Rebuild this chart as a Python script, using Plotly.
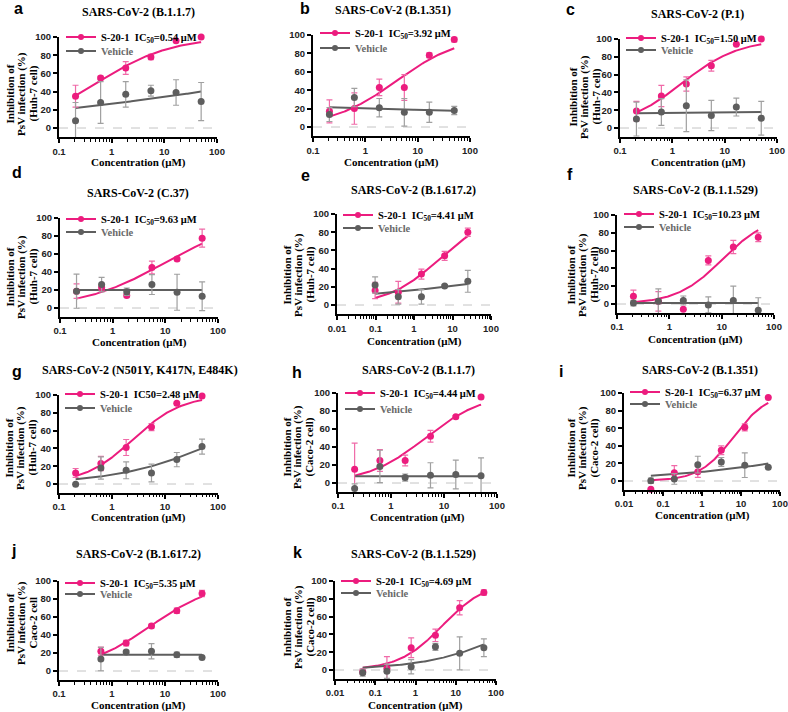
import numpy as np
import plotly.graph_objects as go

W, H = 788, 712
PINK = "#EC1C7E"
PINK_ERR = "#F06AA8"
GRAY = "#5E5E5E"
GRAY_ERR = "#A0A0A0"
SERIF = "Liberation Serif"
SANS = "Liberation Sans"

# ---------------- data (concentrations in µM, inhibition in %) ----------------
conc_3fold = [0.206, 0.617, 1.85, 5.56, 16.7, 50]
conc_3fold_j = [0.617, 1.85, 5.56, 16.7, 50]
conc_4fold_25 = [0.0977, 0.391, 1.56, 6.25, 25]
conc_4fold_50 = [0.0488, 0.195, 0.781, 3.125, 12.5, 50]

s20_a = [35, 55, 66, 78, 96, 100]
s20_a_err = [12, 2, 7, 3, 0, 0]
veh_a = [8, 28, 37, 41, 39, 29]
veh_a_err = [20, 23, 14, 6, 14, 21]

s20_b = [17, 20, 43, 43, 78, 95]
s20_b_err = [12.5, 17, 9, 14, 2.5, 2.5]
veh_b = [13.5, 32, 21, 16, 16, 18]
veh_b_err = [7.5, 10, 10, 15, 11, 4.5]

s20_c = [19, 36, 49.5, 70, 94, 100]
s20_c_err = [11, 12, 8, 6, 0, 0]
veh_c = [10, 18, 25, 14, 23.5, 11]
veh_c_err = [19, 15, 29, 17, 10, 19]

s20_d = [18.7, 22.8, 14, 45, 54.5, 77.6]
s20_d_err = [8, 3, 2, 7, 2, 10]
veh_d = [18.7, 26, 18, 26, 17.5, 13]
veh_d_err = [19, 8, 4, 11, 20, 16]

s20_e = [16, 14, 34, 54, 80]
s20_e_err = [9, 12, 5.5, 5, 4.5]
veh_e = [22, 9, 9, 21, 26]
veh_e_err = [9, 8, 8, 1.5, 12]

s20_f = [8.6, 3, -6, 49, 64, 75]
s20_f_err = [7, 11, 0, 5, 7.5, 5]
veh_f = [1, 3, 4, -1, 4, -7]
veh_f_err = [3, 14, 5, 9, 16, 14]

s20_g = [12.4, 23, 41, 64, 90.6, 99]
s20_g_err = [5, 8, 9, 4, 0, 0]
veh_g = [-0.4, 18, 15.4, 12.4, 27.4, 42]
veh_g_err = [0, 12.5, 9.5, 10, 8, 8.5]

s20_h = [15.4, 25, 25, 52, 73.5, 95.6]
s20_h_err = [29, 12, 6, 6.5, 1.5, 0]
veh_h = [-6, 18.4, 6, 8.5, 9.5, 8]
veh_h_err = [5, 18, 4, 14, 16, 20]

s20_i = [-9.5, 9.5, 10.6, 35, 61, 95]
s20_i_err = [0, 8, 6.5, 5, 4, 0]
veh_i = [0.4, 2.3, 18.6, 21.7, 18, 15.6]
veh_i_err = [3, 6, 9.5, 5, 14, 0]

s20_j = [22, 31, 50, 67, 86]
s20_j_err = [4.5, 3, 2, 3, 3.5]
veh_j = [13.3, 21, 22, 18, 15]
veh_j_err = [13, 2, 8.5, 3, 0]

s20_k = [-2, 2, 25, 39, 70, 87]
s20_k_err = [3, 13, 11, 7, 8, 3]
veh_k = [-3, -1.5, 3.7, 26, 18.7, 25]
veh_k_err = [4, 8, 8, 4, 18.5, 10]

panel_letters = ["a", "b", "c", "d", "e", "f", "g", "h", "i", "j", "k"]
panel_titles = [
    "SARS-CoV-2 (B.1.1.7)", "SARS-CoV-2 (B.1.351)", "SARS-CoV-2 (P.1)",
    "SARS-CoV-2 (C.37)", "SARS-CoV-2 (B.1.617.2)", "SARS-CoV-2 (B.1.1.529)",
    "SARS-CoV-2 (N501Y, K417N, E484K)", "SARS-CoV-2 (B.1.1.7)", "SARS-CoV-2 (B.1.351)",
    "SARS-CoV-2 (B.1.617.2)", "SARS-CoV-2 (B.1.1.529)",
]
cell_labels = ["(Huh-7 cell)", None, "(Huh-7 cell)", "(Huh-7 cell)", "(Huh-7 cell)",
               "(Huh-7 cell)", "(Huh-7 cell)", "(Caco-2 cell)", "(Caco-2 cell)",
               "Caco-2 cell", "(Caco-2 cell)"]
ic50_values = [0.54, 3.92, 1.50, 9.63, 4.41, 10.23, 2.48, 4.44, 6.37, 5.35, 4.69]
ic50_subscript = [True, True, True, True, True, True, False, True, True, True, True]
hill_slopes = [0.62, 0.70, 0.79, 0.56, 0.65, 1.0, 0.94, 0.79, 1.0, 0.70, 0.80]
# vehicle fits: (bottom, top, midpoint, slope)
vehicle_fits = [
    (0, 100, 675, 0.156), (22.5, 16, 5, 0.5), (16, 18.5, 3, 0.5), (20, 20, 1, 1),
    (0, 100, 207000, 0.134), (1, 1, 1, 1), (0, 100, 123, 0.449), (7.5, 7.5, 1, 1),
    (0, 100, 69800, 0.193), (18, 18, 1, 1), (0, 100, 504, 0.393),
]
concs = [conc_3fold, conc_3fold, conc_3fold, conc_3fold, conc_4fold_25, conc_3fold,
         conc_3fold, conc_3fold, conc_4fold_50, conc_3fold_j, conc_4fold_50]
s20_vals = [s20_a, s20_b, s20_c, s20_d, s20_e, s20_f, s20_g, s20_h, s20_i, s20_j, s20_k]
s20_errs = [s20_a_err, s20_b_err, s20_c_err, s20_d_err, s20_e_err, s20_f_err,
            s20_g_err, s20_h_err, s20_i_err, s20_j_err, s20_k_err]
veh_vals = [veh_a, veh_b, veh_c, veh_d, veh_e, veh_f, veh_g, veh_h, veh_i, veh_j, veh_k]
veh_errs = [veh_a_err, veh_b_err, veh_c_err, veh_d_err, veh_e_err, veh_f_err,
            veh_g_err, veh_h_err, veh_i_err, veh_j_err, veh_k_err]
x_log_ranges = [(-1, 2)] * 4 + [(-2, 2)] + [(-1, 2)] * 3 + [(-2, 2), (-1, 2), (-2, 2)]

# ---------------- layout positions (pixels) ----------------
# plot box: left, right, y(100), y(0)
boxes = [(59, 217, 37, 128), (313, 470, 35, 127), (620, 777, 39, 128),
         (60, 218, 218, 308), (337, 491, 214, 305), (617, 774, 215, 304),
         (59, 218, 395, 484), (338, 497, 393, 483), (624, 780, 393, 481),
         (59, 218, 581, 671), (335, 496, 581, 670)]
letter_pos = [(18, 8), (305, 9), (570, 10), (17, 173), (305, 175), (570, 174),
              (17, 371), (297, 372), (561, 371), (13, 550), (297, 552)]
title_pos = [(138, 12), (393, 10), (697, 14), (138, 193), (413, 190), (695, 190),
             (140, 370), (418, 370), (700, 370), (138, 554), (413, 554)]
xtitle_y = [163, 163, 163, 342, 341, 339, 517, 517, 515, 705, 705]
ytitle_pos = [(21, 94), None, (584, 97), (21, 277), (298, 275), (582, 275),
              (20, 448), (298, 447), (582, 448), (21, 623), (298, 627)]
legend_pos = [(66, 37, 51), (320, 33, 48), (626, 38, 50), (66, 219, 232), (343, 215, 228),
              (624, 214, 227), (65, 394, 408), (345, 393, 409), (630, 392, 404),
              (65, 583, 594), (341, 581, 593)]


def px_x(p):
    return p / W


def px_y(p):
    return 1 - p / H


def four_pl(x, bottom, top, mid, slope):
    x = np.asarray(x, dtype=float)
    return bottom + (top - bottom) / (1 + (mid / x) ** slope)


fig = go.Figure()
layout = dict(
    width=W, height=H, margin=dict(l=0, r=0, t=0, b=0, autoexpand=False),
    paper_bgcolor="white", plot_bgcolor="white", showlegend=True,
)
annotations = []
shapes = []

for i in range(11):
    n = i + 1
    xa = "x" if n == 1 else f"x{n}"
    ya = "y" if n == 1 else f"y{n}"
    left, right, ytop, yzero = boxes[i]
    ybot = yzero + 10 * (yzero - ytop) / 100
    conc = concs[i]

    layout["xaxis" if n == 1 else f"xaxis{n}"] = dict(
        domain=[px_x(left), px_x(right)], anchor=ya, type="log", automargin=False,
        range=list(x_log_ranges[i]), dtick=1, showgrid=False, zeroline=False,
        showline=True, linecolor="black", linewidth=2, ticks="outside", ticklen=4,
        tickwidth=1.5, tickcolor="black",
        tickfont=dict(family=SANS, size=9.5, color="#222", weight="bold"),
        minor=dict(ticks="outside", ticklen=2.5, tickwidth=1, tickcolor="black",
                   dtick="D1", showgrid=False),
    )
    layout["yaxis" if n == 1 else f"yaxis{n}"] = dict(
        domain=[px_y(ybot), px_y(ytop)], anchor=xa, range=[-10, 100], automargin=False,
        tickvals=[0, 20, 40, 60, 80, 100], showgrid=False, zeroline=False,
        showline=True, linecolor="black", linewidth=2, ticks="outside", ticklen=4,
        tickwidth=1.5, tickcolor="black",
        tickfont=dict(family=SANS, size=9.5, color="#222", weight="bold"),
    )

    shapes.append(dict(type="line", xref=f"{xa} domain", x0=0, x1=1, yref=ya, y0=0, y1=0,
                       line=dict(color="#C4C4C4", width=1, dash="dash"), layer="below"))

    xs = np.logspace(np.log10(min(conc)), np.log10(max(conc)), 120)
    fig.add_trace(go.Scatter(x=xs, y=four_pl(xs, 0, 100, ic50_values[i], hill_slopes[i]),
                             mode="lines", line=dict(color=PINK, width=2),
                             xaxis=xa, yaxis=ya, showlegend=False, hoverinfo="skip"))
    vb, vt, vm, vs = vehicle_fits[i]
    fig.add_trace(go.Scatter(x=xs, y=four_pl(xs, vb, vt, vm, vs),
                             mode="lines", line=dict(color=GRAY, width=2),
                             xaxis=xa, yaxis=ya, showlegend=False, hoverinfo="skip"))
    fig.add_trace(go.Scatter(x=conc, y=s20_vals[i], mode="markers",
                             marker=dict(color=PINK, size=7),
                             error_y=dict(type="data", array=s20_errs[i], color=PINK_ERR,
                                          thickness=1.2, width=3),
                             xaxis=xa, yaxis=ya, showlegend=False, cliponaxis=False))
    fig.add_trace(go.Scatter(x=conc, y=veh_vals[i], mode="markers",
                             marker=dict(color=GRAY, size=7),
                             error_y=dict(type="data", array=veh_errs[i], color=GRAY_ERR,
                                          thickness=1.2, width=3),
                             xaxis=xa, yaxis=ya, showlegend=False, cliponaxis=False))

    ic_txt = "IC<sub>50</sub>" if ic50_subscript[i] else "IC50"
    lg1 = f"legend{2 * i + 2}"
    lg2 = f"legend{2 * i + 3}"
    fig.add_trace(go.Scatter(x=[None], y=[None], mode="lines+markers",
                             line=dict(color=PINK, width=2), marker=dict(color=PINK, size=6),
                             name=f"<b>S-20-1  {ic_txt}={ic50_values[i]:.2f} μM</b>",
                             xaxis=xa, yaxis=ya, legend=lg1))
    fig.add_trace(go.Scatter(x=[None], y=[None], mode="lines+markers",
                             line=dict(color=GRAY, width=2), marker=dict(color=GRAY, size=6),
                             name="<b>Vehicle</b>", xaxis=xa, yaxis=ya, legend=lg2))
    lx, r1, r2 = legend_pos[i]
    for lg, ry, col in ((lg1, r1, "black"), (lg2, r2, "#6A6A6A")):
        layout[lg] = dict(x=px_x(lx - 5), y=px_y(ry), xanchor="left", yanchor="middle",
                          bgcolor="rgba(0,0,0,0)", borderwidth=0, itemwidth=30,
                          font=dict(family=SERIF, size=10.5, color=col))

    lx_, ly_ = letter_pos[i]
    annotations.append(dict(x=px_x(lx_), y=px_y(ly_), xref="paper", yref="paper",
                            xanchor="center", yanchor="middle",
                            text=f"<b>{panel_letters[i]}</b>", showarrow=False,
                            font=dict(family=SANS, size=16, color="black")))
    tx, ty = title_pos[i]
    annotations.append(dict(x=px_x(tx), y=px_y(ty), xref="paper", yref="paper",
                            xanchor="center", yanchor="middle",
                            text=f"<b>{panel_titles[i]}</b>", showarrow=False,
                            font=dict(family=SERIF, size=12, color="black")))
    annotations.append(dict(x=0.5, y=px_y(xtitle_y[i]), xref=f"{xa} domain", yref="paper",
                            xanchor="center", yanchor="middle",
                            text="<b>Concentration (μM)</b>", showarrow=False,
                            font=dict(family=SERIF, size=11, color="black")))
    if ytitle_pos[i] is not None:
        cx, cy = ytitle_pos[i]
        lines = ["Inhibition of", "PsV infection (%)", cell_labels[i]]
        for k, txt in enumerate(lines):
            annotations.append(dict(x=px_x(cx + (k - 1) * 11.5), y=px_y(cy),
                                    xref="paper", yref="paper", text=f"<b>{txt}</b>",
                                    xanchor="center", yanchor="middle",
                                    textangle=-90, showarrow=False,
                                    font=dict(family=SERIF, size=11, color="black")))

layout["annotations"] = annotations
layout["shapes"] = shapes
fig.update_layout(**layout)
fig.write_html("out.html", config={"displayModeBar": False},
               post_script="document.body.style.margin='0';document.body.style.overflow='hidden';")
